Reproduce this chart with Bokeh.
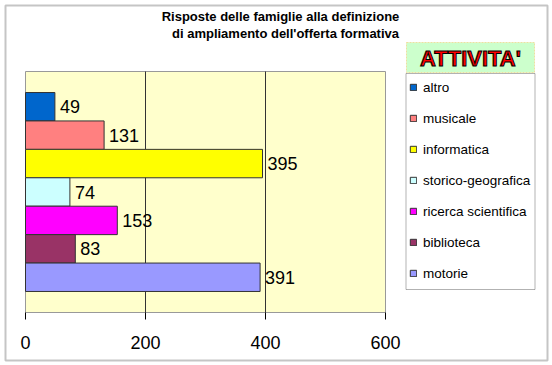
from bokeh.plotting import figure
from bokeh.models import ColumnDataSource, Range1d, Label, BoxAnnotation, Legend, LegendItem, FixedTicker
from bokeh.core.properties import value
from bokeh.embed import file_html
from bokeh.resources import INLINE

categories = ["altro", "musicale", "informatica", "storico-geografica",
              "ricerca scientifica", "biblioteca", "motorie"]
counts = [49, 131, 395, 74, 153, 83, 391]
colors = ["#0066CC", "#FF8080", "#FFFF00", "#CCFFFF", "#FF00FF", "#993366", "#9999FF"]
x_ticks = [0, 200, 400, 600]

n = len(categories)
ypos = [n - 1 - i for i in range(n)]  # top to bottom

FONT = "Liberation Sans"
W, H = 552, 365

# plot area extent in data units
X_LO, X_HI = x_ticks[0], x_ticks[-1]
Y_LO, Y_HI = -1.24, n - 1 + 1.24

# canvas geometry: plot area spans X 25..385, Y 71..312; frame covers whole canvas
PX_X = 360 / (X_HI - X_LO)
PX_Y = 241 / (Y_HI - Y_LO)
x_range = Range1d(X_LO - 25 / PX_X, X_LO + (W - 25) / PX_X)
y_range = Range1d(Y_LO - (H - 312) / PX_Y, Y_HI + 71 / PX_Y)

p = figure(width=W, height=H, output_backend="svg", toolbar_location=None,
           x_range=x_range, y_range=y_range,
           y_axis_location=None, title=None,
           min_border_left=0, min_border_right=0, min_border_top=0, min_border_bottom=0)
p.background_fill_color = "white"
p.border_fill_color = "white"
p.outline_line_color = None

p.xgrid.visible = False
p.ygrid.visible = False

# plot area background
p.quad(left=[X_LO], right=[X_HI], bottom=[Y_LO], top=[Y_HI],
       fill_color="#FFFFCC", line_color="#999999", line_width=1)
# vertical gridlines
gx = x_ticks[1:-1]
p.segment(x0=gx, y0=[Y_LO] * len(gx), x1=gx, y1=[Y_HI] * len(gx),
          line_color="#333333", line_width=1)

ax = p.xaxis[0]
ax.fixed_location = Y_LO
ax.ticker = FixedTicker(ticks=x_ticks)
ax.axis_line_color = None
ax.major_tick_line_color = "black"
ax.major_tick_out = 7
ax.major_tick_in = 0
ax.minor_tick_line_color = None
ax.major_label_text_font = FONT
ax.major_label_text_font_size = "18px"
ax.major_label_text_color = "black"
ax.major_label_standoff = 16

renderers = []
for i in range(n):
    src = ColumnDataSource(dict(y=[ypos[i]], right=[counts[i]], lab=[str(counts[i])]))
    r = p.hbar(y="y", right="right", left=0, height=1.0, source=src,
               fill_color=colors[i], line_color="#333333", line_width=1)
    renderers.append(r)
    p.text(x="right", y="y", text="lab", source=src, x_offset=5,
           text_baseline="middle", text_align="left",
           text_font=value(FONT), text_font_size="18px", text_color="black")

# frame-relative screen coordinates: sx = X, sy = H - Y
# outer border
p.add_layout(BoxAnnotation(left=5, right=W - 5, top=H - 5, bottom=H - 360,
                           left_units="screen", right_units="screen",
                           top_units="screen", bottom_units="screen",
                           fill_color=None, fill_alpha=0,
                           line_color="#404040", line_width=2, level="annotation"))

p.add_layout(Label(x=280, y=H - 16, x_units="screen", y_units="screen",
                   text="Risposte delle famiglie alla definizione",
                   text_align="center", text_baseline="middle",
                   text_font=FONT, text_font_size="13px", text_font_style="bold",
                   text_color="black"))
p.add_layout(Label(x=285, y=H - 33, x_units="screen", y_units="screen",
                   text="di ampliamento dell'offerta formativa",
                   text_align="center", text_baseline="middle",
                   text_font=FONT, text_font_size="13px", text_font_style="bold",
                   text_color="black"))

# legend title box
p.add_layout(BoxAnnotation(left=406, right=534, top=H - 42, bottom=H - 72,
                           left_units="screen", right_units="screen",
                           top_units="screen", bottom_units="screen",
                           fill_color="#CCFFCC", fill_alpha=1.0,
                           line_color="#FF9900", line_width=1, line_dash="2 1",
                           level="underlay"))
p.add_layout(Label(x=470, y=H - 58, x_units="screen", y_units="screen",
                   text="ATTIVITA'", text_align="center", text_baseline="middle",
                   text_font=FONT, text_font_size="22px", text_font_style="bold",
                   text_color="#FF0000", text_outline_color="black", level="overlay"))

# legend box
p.add_layout(BoxAnnotation(left=405.5, right=534.5, top=H - 73, bottom=H - 289,
                           left_units="screen", right_units="screen",
                           top_units="screen", bottom_units="screen",
                           fill_color="white", fill_alpha=1.0,
                           line_color="black", line_width=1, level="underlay"))

legend = Legend(items=[LegendItem(label=categories[i], renderers=[renderers[i]]) for i in range(n)],
                location=(409, H - 283), orientation="vertical",
                label_text_font=FONT, label_text_font_size="13.5px", label_text_color="black",
                glyph_width=8, glyph_height=8, label_height=20, spacing=11,
                padding=6, margin=0, label_standoff=6,
                border_line_color=None, background_fill_alpha=0.0)
p.add_layout(legend, "center")

open("out.html", "w").write(file_html(p, INLINE))
